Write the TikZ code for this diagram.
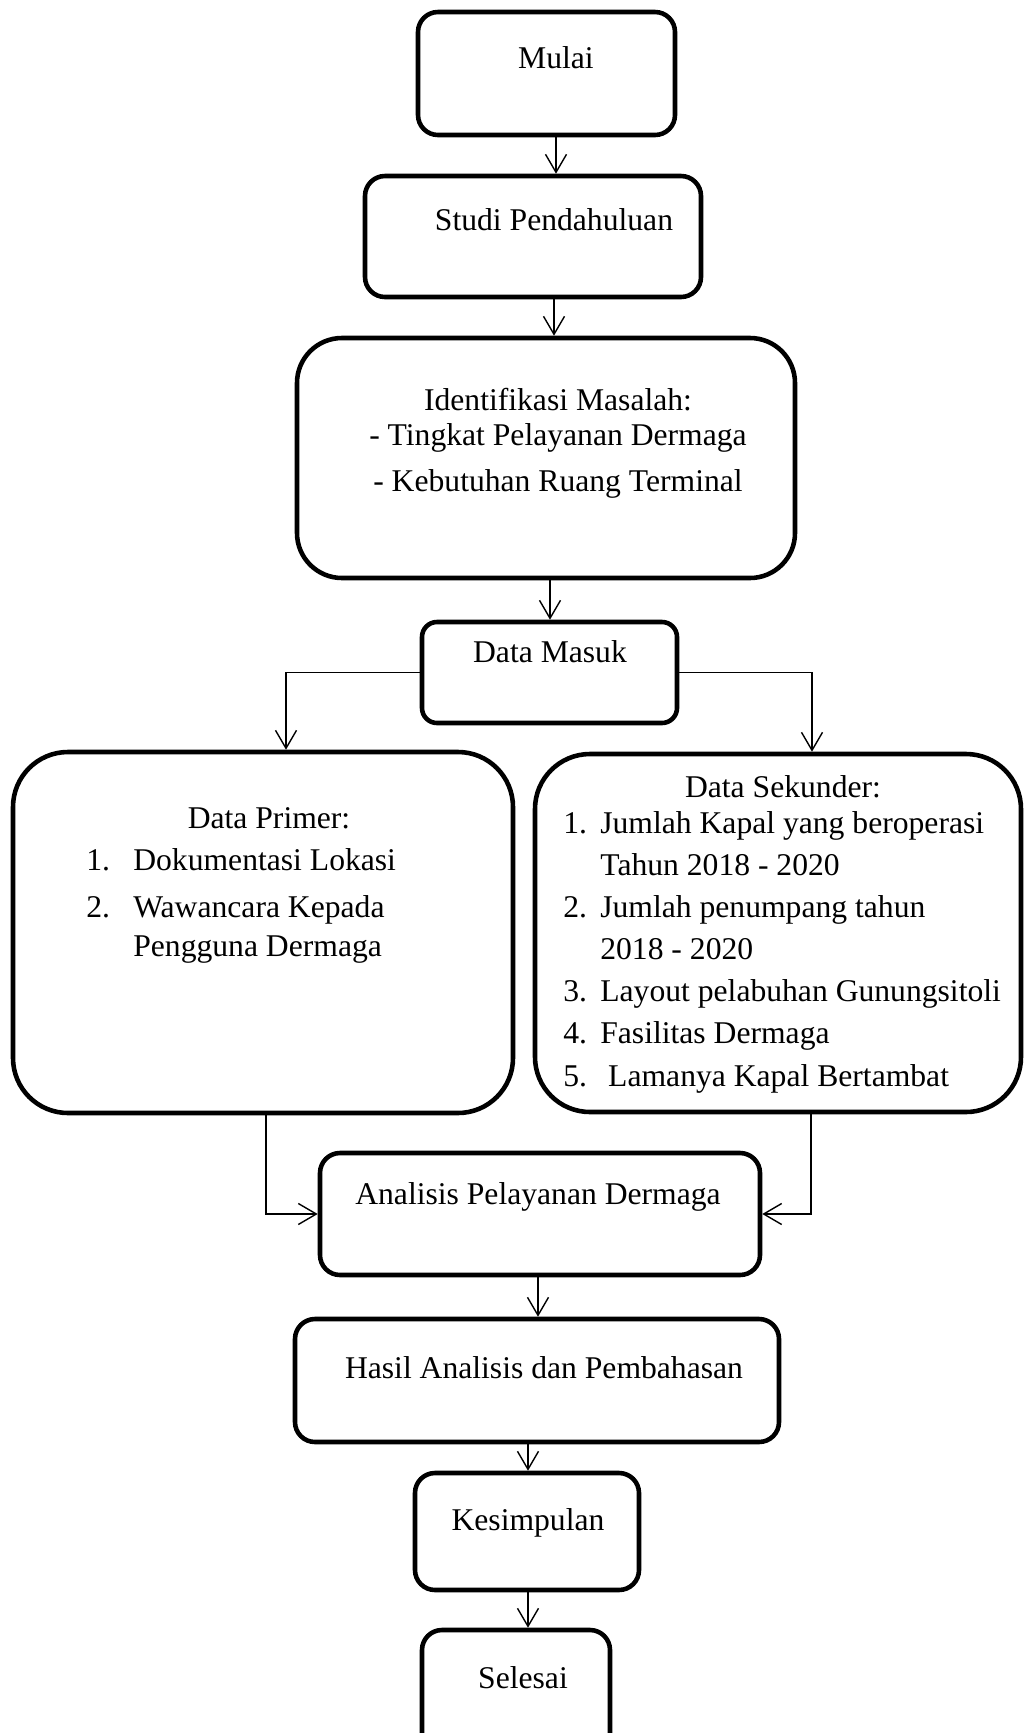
\documentclass[tikz,border=0pt]{standalone}
\usepackage{fontspec}
\setmainfont{Liberation Serif}
\usetikzlibrary{arrows.meta,positioning,calc}
\tikzset{
  stepbox/.style={
    rectangle, draw=black, line width=2.6pt,
    rounded corners=#1, inner sep=0pt
  },
  stepbox/.default=0.4cm,
  steptext/.style={
    font=\fontsize{18}{24}\selectfont, inner sep=0pt, anchor=base
  },
  listtext/.style={
    font=\fontsize{18}{24}\selectfont, inner sep=0pt, anchor=base west
  },
  flowarrow/.style={
    -{Straight Barb[length=0.36cm,width=0.42cm]}, line width=0.8pt
  },
}
\begin{document}
\begin{tikzpicture}
  \useasboundingbox (0,0) rectangle (20.5,-34.66);
  \clip (0,0) rectangle (20.5,-34.66);

  % Boxes
  \node[stepbox, minimum width=5.14cm, minimum height=2.46cm] (mulai) at (10.93,-1.47) {};
  \node[stepbox, minimum width=6.72cm, minimum height=2.42cm] (studi) at (10.66,-4.73) {};
  \node[stepbox=0.9cm, minimum width=9.96cm, minimum height=4.80cm] (ident) at (10.92,-9.16) {};
  \node[stepbox=0.3cm, minimum width=5.10cm, minimum height=2.02cm] (masuk) at (10.99,-13.45) {};
  \node[stepbox=1.1cm, minimum width=10.0cm, minimum height=7.22cm] (primer) at (5.26,-18.65) {};
  \node[stepbox=1.1cm, minimum width=9.72cm, minimum height=7.16cm] (sekunder) at (15.56,-18.66) {};
  \node[stepbox, minimum width=8.80cm, minimum height=2.44cm] (analisis) at (10.80,-24.28) {};
  \node[stepbox, minimum width=9.68cm, minimum height=2.46cm] (hasil) at (10.74,-27.61) {};
  \node[stepbox, minimum width=4.48cm, minimum height=2.34cm] (simpul) at (10.54,-30.63) {};
  \node[stepbox, minimum width=3.76cm, minimum height=2.60cm] (selesai) at (10.32,-33.90) {};

  % Texts
  \node[steptext] (mulaitxt) at (11.12,-1.36) {Mulai};
  \node[steptext] (studitxt) at (11.08,-4.60) {Studi Pendahuluan};
  \node[steptext] (identtxt) at (11.16,-8.20) {\begin{tabular}[t]{@{}c@{}}
    Identifikasi Masalah:\\[-0.13cm]
    - Tingkat Pelayanan Dermaga\\[0.07cm]
    - Kebutuhan Ruang Terminal
  \end{tabular}};
  \node[steptext] (masuktxt) at (11.00,-13.24) {Data Masuk};

  \node[steptext] (primertxt) at (5.38,-16.56) {Data Primer:};
  \node[listtext] (primerlist) at (1.72,-17.40) {\begin{tabular}[t]{@{}p{0.94cm}@{}l@{}}
    1. & Dokumentasi Lokasi\\[0.1cm]
    2. & Wawancara Kepada\\[-0.05cm]
       & Pengguna Dermaga
  \end{tabular}};

  \node[steptext] (sekundertxt) at (15.66,-15.94) {Data Sekunder:};
  \node[listtext] (sekunderlist) at (11.26,-16.66) {\begin{tabular}[t]{@{}p{0.74cm}@{}l@{}}
    1. & Jumlah Kapal yang beroperasi\\
       & Tahun 2018 - 2020\\
    2. & Jumlah penumpang tahun\\
       & 2018 - 2020\\
    3. & Layout pelabuhan Gunungsitoli\\
    4. & Fasilitas Dermaga\\
    5. & \ Lamanya Kapal Bertambat
  \end{tabular}};

  \node[steptext] (analisistxt) at (10.76,-24.08) {Analisis Pelayanan Dermaga};
  \node[steptext] (hasiltxt) at (10.88,-27.56) {Hasil Analisis dan Pembahasan};
  \node[steptext] (simpultxt) at (10.56,-30.60) {Kesimpulan};
  \node[steptext] (selesaitxt) at (10.46,-33.76) {Selesai};

  % Arrows
  \draw[flowarrow] (mulai.south -| mulaitxt) -- (studi.north -| mulaitxt);
  \draw[flowarrow] (studi.south -| studitxt) -- (ident.north -| studitxt);
  \draw[flowarrow] (ident.south -| masuktxt) -- (masuk.north -| masuktxt);
  \draw[flowarrow] (masuk.west) -| ([xshift=0.46cm]primer.north);
  \draw[flowarrow] (masuk.east) -| ([xshift=0.68cm]sekunder.north);
  \draw[flowarrow] ([xshift=0.06cm]primer.south) |- (analisis.west);
  \draw[flowarrow] ([xshift=0.66cm]sekunder.south) |- (analisis.east);
  \draw[flowarrow] (analisis.south -| analisistxt) -- (hasil.north -| analisistxt);
  \draw[flowarrow] (hasil.south -| simpultxt) -- (simpul.north -| simpultxt);
  \draw[flowarrow] (simpul.south -| simpultxt) -- (selesai.north -| simpultxt);
\end{tikzpicture}
\end{document}
